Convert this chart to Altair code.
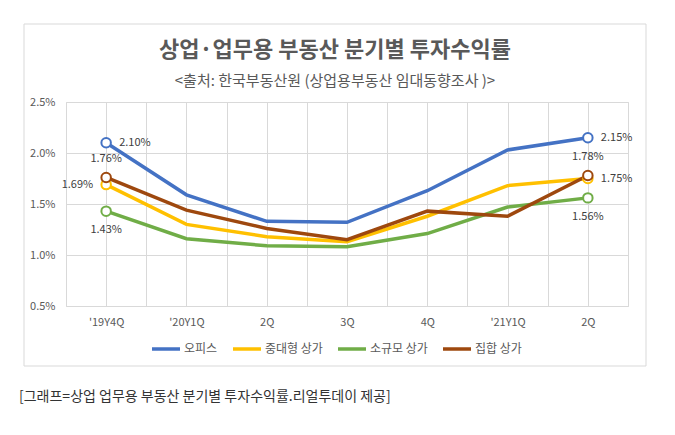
import json
import altair as alt
import pandas as pd

# ---- data ----
categories = ["'19Y4Q", "'20Y1Q", "2Q", "3Q", "4Q", "'21Y1Q", "2Q"]
series = ["오피스", "중대형 상가", "소규모 상가", "집합 상가"]
colors = ["#4472C4", "#FFC000", "#70AD47", "#9E480E"]
office = [2.10, 1.59, 1.33, 1.32, 1.63, 2.03, 2.15]
mid_large = [1.69, 1.30, 1.18, 1.13, 1.38, 1.68, 1.75]
small = [1.43, 1.16, 1.09, 1.08, 1.21, 1.47, 1.56]
complex_ = [1.76, 1.44, 1.26, 1.15, 1.43, 1.38, 1.78]
y_ticks = [0.5, 1.0, 1.5, 2.0, 2.5]

title_text = "상업·업무용 부동산 분기별 투자수익률"
subtitle_text = "<출처: 한국부동산원 (상업용부동산 임대동향조사 )>"
caption_text = "[그래프=상업 업무용 부동산 분기별 투자수익률.리얼투데이 제공]"

# label placement for first / last points (style only)
first_pos = {"오피스": "right", "중대형 상가": "left", "소규모 상가": "below", "집합 상가": "above"}
last_pos = {"오피스": "right", "중대형 상가": "right", "소규모 상가": "below", "집합 상가": "above"}

rows = []
for name, vals in zip(series, [office, mid_large, small, complex_]):
    for i, v in enumerate(vals):
        rows.append({"idx": i, "series": name, "value": v})
df = pd.DataFrame(rows)

ends = df[df["idx"].isin([0, len(categories) - 1])].copy()
ends["pos"] = [first_pos[s] if i == 0 else last_pos[s] for s, i in zip(ends["series"], ends["idx"])]

FONT = "Noto Sans CJK KR"
W, H = 562, 204
PL, PT = 66, 102

x_vals = [i * 0.5 - 0.5 for i in range(2 * len(categories) + 1)]
x_label_expr = "datum.value % 1 == 0 ? " + json.dumps(categories) + "[datum.value] : ''"

color = alt.Color(
    "series:N",
    scale=alt.Scale(domain=series, range=colors),
    legend=alt.Legend(
        title=None, orient="none", legendX=84, legendY=231, direction="horizontal",
        columns=4, symbolType="stroke", symbolSize=784, symbolStrokeWidth=3.5,
        labelFontSize=12, labelColor="#595959", labelOffset=2, columnPadding=8,
        padding=0, labelFont=FONT,
    ),
)

x_enc = alt.X(
    "idx:Q",
    scale=alt.Scale(domain=[-0.5, len(categories) - 0.5], nice=False, zero=False),
    axis=alt.Axis(
        values=x_vals, labelExpr=x_label_expr, title=None, ticks=False, domain=False,
        grid=True, gridColor="#d9d9d9", labelFontSize=11, labelColor="#595959",
        labelPadding=10, labelOverlap=False, labelFlush=False, labelFont=FONT,
    ),
)
y_enc = alt.Y(
    "value:Q",
    scale=alt.Scale(domain=[0.5, 2.5], nice=False, zero=False),
    axis=alt.Axis(
        values=y_ticks, labelExpr="format(datum.value, '.1f') + '%'", title=None,
        ticks=False, domain=False, grid=True, gridColor="#d9d9d9", labelFontSize=11,
        labelColor="#595959", labelPadding=11, labelFlush=False, labelFont=FONT,
    ),
)

frame = alt.Chart(pd.DataFrame({"a": [0]})).mark_rect(
    filled=False, stroke="#d9d9d9", strokeWidth=1
).encode(
    x=alt.value(24 - PL), x2=alt.value(646 - PL),
    y=alt.value(24 - PT), y2=alt.value(366 - PT),
)

lines = alt.Chart(df).mark_line(strokeWidth=3.5).encode(x=x_enc, y=y_enc, color=color)

points = alt.Chart(ends).mark_point(
    filled=False, fill="white", fillOpacity=1, size=90, strokeWidth=2, opacity=1
).encode(x="idx:Q", y="value:Q", stroke=alt.Stroke("series:N", scale=alt.Scale(domain=series, range=colors), legend=None))

def label_layer(pos, **kw):
    return alt.Chart(ends).transform_filter(alt.datum.pos == pos).transform_calculate(
        lbl="format(datum.value, '.2f') + '%'"
    ).mark_text(
        fontSize=11, color="#404040", font=FONT, **kw
    ).encode(x="idx:Q", y="value:Q", text="lbl:N")

lab_right = label_layer("right", align="left", dx=13, baseline="middle")
lab_left = label_layer("left", align="right", dx=-13, baseline="middle")
lab_above = label_layer("above", align="center", dy=-18, baseline="middle")
lab_below = label_layer("below", align="center", dy=19, baseline="middle")

title = alt.Chart(pd.DataFrame({"t": [title_text]})).mark_text(
    fontSize=22, fontWeight="bold", color="#595959", font=FONT, align="center", baseline="middle"
).encode(x=alt.value(335 - PL), y=alt.value(50 - PT), text="t:N")

subtitle = alt.Chart(pd.DataFrame({"t": [subtitle_text]})).mark_text(
    fontSize=15, color="#595959", font=FONT, align="center", baseline="middle"
).encode(x=alt.value(335 - PL), y=alt.value(81 - PT), text="t:N")

caption = alt.Chart(pd.DataFrame({"t": [caption_text]})).mark_text(
    fontSize=14, color="#333333", font=FONT, align="left", baseline="middle"
).encode(x=alt.value(19 - PL), y=alt.value(397 - PT), text="t:N")

chart = alt.layer(
    frame, lines, points, lab_right, lab_left, lab_above, lab_below, title, subtitle, caption
).properties(
    width=W, height=H,
    autosize=alt.AutoSizeParams(type="none"),
    padding={"left": PL, "top": PT, "right": 675 - PL - W, "bottom": 435 - PT - H},
    background="white",
).configure_view(
    fill="#eeeeee", stroke=None
).configure(font=FONT)

chart.save("out.html", embed_options={"renderer": "svg", "actions": False})
